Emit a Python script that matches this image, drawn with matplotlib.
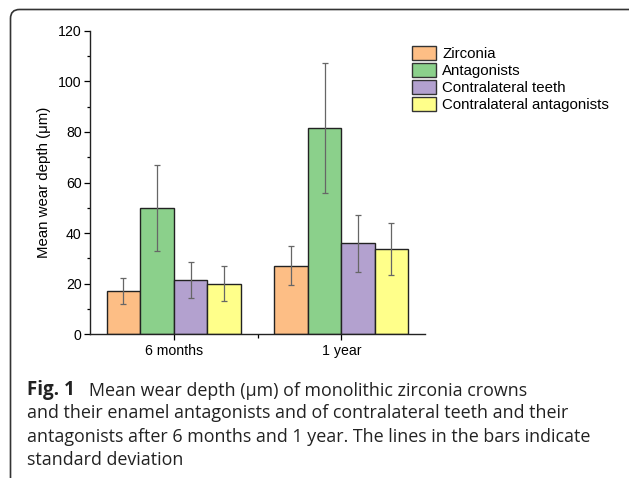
import numpy as np
import matplotlib
matplotlib.use("Agg")
import matplotlib.pyplot as plt
from matplotlib.patches import FancyBboxPatch
from matplotlib.transforms import IdentityTransform

# --- data ---
groups = ["6 months", "1 year"]
series = ["Zirconia", "Antagonists", "Contralateral teeth", "Contralateral antagonists"]
zirconia = [17.2, 27.1]
antagonists = [50.0, 81.6]
contra_teeth = [21.5, 36.0]
contra_antag = [20.0, 33.6]
zirconia_sd = [5.2, 7.7]
antagonists_sd = [17.0, 25.6]
contra_teeth_sd = [7.2, 11.3]
contra_antag_sd = [6.9, 10.2]

colors = ["#fdbe85", "#8bd08b", "#b3a1cf", "#ffff8a"]

W, H = 629, 478
fig = plt.figure(figsize=(W / 100, H / 100), dpi=100)
plt.rcParams['font.family'] = ['Liberation Sans', 'DejaVu Sans']

ax = fig.add_axes([90 / W, 1 - 334.3 / H, (425 - 90) / W, (334.3 - 30.7) / H])

x = np.arange(1, len(groups) + 1)
width = 0.2
values = [zirconia, antagonists, contra_teeth, contra_antag]
sds = [zirconia_sd, antagonists_sd, contra_teeth_sd, contra_antag_sd]
for i, (vals, sd) in enumerate(zip(values, sds)):
    pos = x + (i - 1.5) * width
    ax.bar(pos, vals, width=width, color=colors[i], edgecolor="#222222",
           linewidth=1.0, label=series[i], zorder=2)
    ax.errorbar(pos, vals, yerr=sd, fmt="none", ecolor="#666666",
                elinewidth=0.9, capsize=2.4, capthick=0.9, zorder=3)

ax.set_xlim(0.5, 2.5)
ax.set_ylim(0, 120)
ax.set_xticks(x)
ax.set_xticklabels(groups, fontsize=10.2)
ax.set_xticks([1.5], minor=True)
ax.set_yticks(np.arange(0, 121, 20))
ax.set_yticks(np.arange(10, 120, 20), minor=True)
ax.tick_params(axis="y", labelsize=10.2, length=4, width=0.9, pad=2)
ax.tick_params(axis="y", which="minor", length=2.5, width=0.9)
ax.tick_params(axis="x", length=4, width=0.9, pad=3)
ax.tick_params(axis="x", which="minor", length=3, width=0.9)
ax.set_ylabel("Mean wear depth (\u03bcm)", fontsize=10.8, labelpad=5)
for s in ["top", "right"]:
    ax.spines[s].set_visible(False)
for s in ["left", "bottom"]:
    ax.spines[s].set_linewidth(1.0)
    ax.spines[s].set_color("#222222")

leg = fig.legend(loc="upper left", bbox_to_anchor=(412 / W, 1 - 46 / H),
                 frameon=False, fontsize=10.8, handlelength=1.6, handleheight=1.05,
                 handletextpad=0.4, labelspacing=0.13, borderaxespad=0, borderpad=0)
for p in leg.get_patches():
    p.set_edgecolor("#333333")

# --- caption ---
cap_font = ['Open Sans', 'DejaVu Sans']
cap_size = 12.9
t1 = fig.text(27 / W, 1 - 395 / H, "Fig. 1", fontsize=cap_size + 0.6, fontweight="bold",
              family=cap_font, va="baseline", color="#222222")
ax.annotate("   Mean wear depth (\u03bcm) of monolithic zirconia crowns",
            xy=(1, 0), xycoords=t1, va="bottom", ha="left",
            fontsize=cap_size, family=cap_font, color="#222222",
            annotation_clip=False)
cap_lines = [
    "and their enamel antagonists and of contralateral teeth and their",
    "antagonists after 6 months and 1 year. The lines in the bars indicate",
    "standard deviation",
]
for k, line in enumerate(cap_lines):
    fig.text(27 / W, 1 - (395 + 23.4 * (k + 1)) / H, line, fontsize=cap_size,
             family=cap_font, va="baseline", color="#222222")

# rounded frame around the figure (only top and sides visible)
frame = FancyBboxPatch((10.5, -30), 637.5, 498.5, boxstyle="round,pad=0,rounding_size=9",
                       transform=IdentityTransform(), fill=False,
                       edgecolor="#333333", linewidth=1.2)
fig.patches.append(frame)

fig.savefig("out.png", dpi=100)
